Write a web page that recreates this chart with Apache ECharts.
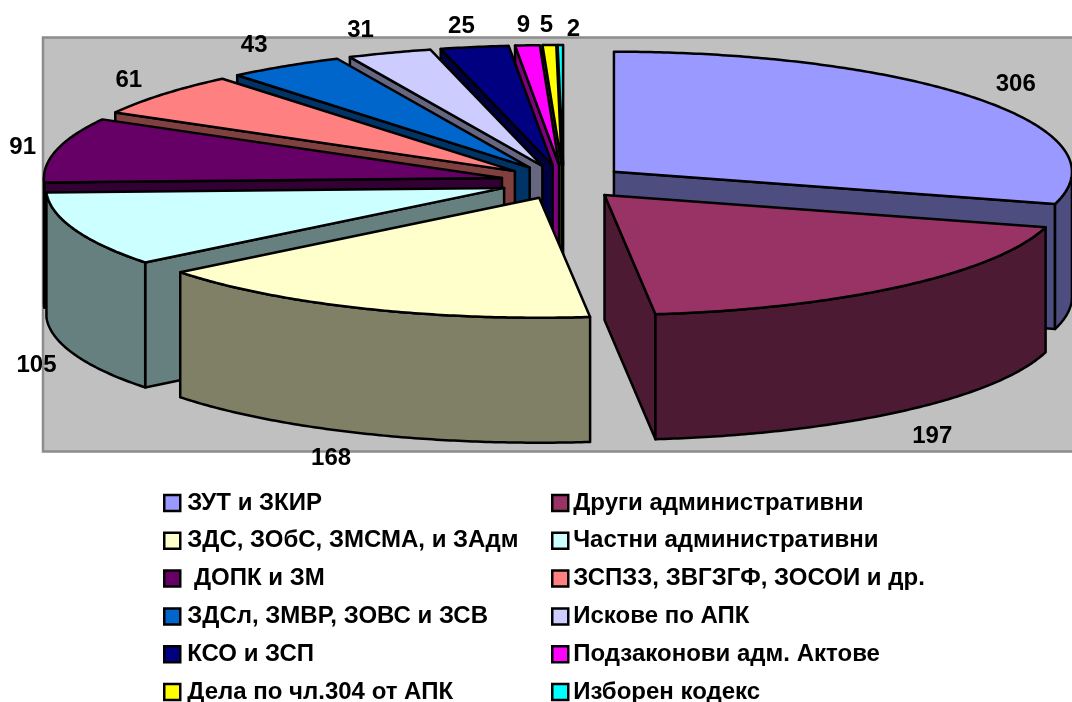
<!DOCTYPE html>
<html><head><meta charset="utf-8">
<style>html,body{margin:0;padding:0;background:#fff}#c{width:1072px;height:702px}</style>
<script src="https://cdn.jsdelivr.net/npm/echarts@6/dist/echarts.min.js"></script>
</head><body><div id="c"></div>
<script>
const categories = ['ЗУТ и ЗКИР','Други административни','ЗДС, ЗОбС, ЗМСМА, и ЗАдм','Частни административни',' ДОПК и ЗМ','ЗСПЗЗ, ЗВГЗГФ, ЗОСОИ и др.','ЗДСл, ЗМВР, ЗОВС и ЗСВ','Искове по АПК','КСО и ЗСП','Подзаконови адм. Актове','Дела по чл.304 от АПК','Изборен кодекс'];
const values = [306,197,168,105,91,61,43,31,25,9,5,2];
const topColors = ['#9999FF','#993366','#FFFFCC','#CCFFFF','#660066','#FF8080','#0066CC','#CCCCFF','#000080','#FF00FF','#FFFF00','#00FFFF'];
const sideColors = ['#4D4D80','#4D1A33','#808066','#668080','#330033','#804040','#003366','#666680','#000040','#800080','#808000','#008080'];
const labelShift = [[37,-15],[31,150],[-32,150],[-38,136],[-34,-3],[-34,-14],[-31,-21],[-29,-22],[-13,-21],[-4,-20],[-3,-20],[13,-16]];

const C = {x:563.5,y:182,rx:458,ry:120,ex:63.3,ey:17,depth:125};
const total = values.reduce((a,b)=>a+b,0);
const rad = v => v/total*2*Math.PI;
const starts = []; values.reduce((s,v,i)=>(starts[i]=s,s+v),0);

function slice(i){
  const a0=rad(starts[i]), a1=rad(starts[i]+values[i]), m=(a0+a1)/2;
  const ax=C.x+C.ex*Math.sin(m), ay=C.y-C.ey*Math.cos(m);
  const pt=a=>[ax+C.rx*Math.sin(a), ay-C.ry*Math.cos(a)];
  return {a0,a1,m,ax,ay,pt};
}
function arc(s,a,b){const n=Math.max(2,Math.ceil((b-a)/0.01));const r=[];for(let k=0;k<=n;k++)r.push(s.pt(a+(b-a)*k/n));return r;}
const drop=p=>[p[0],p[1]+C.depth];
const LINE={stroke:'#000',lineWidth:2.5,lineJoin:'round'};
function poly(points,fill){return {type:'polygon',shape:{points},style:Object.assign({fill},LINE),silent:true};}
function render(i){
  const s=slice(i), kids=[];
  const apex=[s.ax,s.ay], mid=s.pt(s.m);
  [s.a0,s.a1].forEach(a=>{
    const p=s.pt(a), dx=p[0]-s.ax, dy=p[1]-s.ay;
    const crossMid=dx*(mid[1]-s.ay)-dy*(mid[0]-s.ax), crossDown=dx;
    if(crossMid*crossDown<0) kids.push(poly([apex,p,drop(p),drop(apex)],sideColors[i]));
  });
  const fa=Math.max(s.a0,Math.PI/2), fb=Math.min(s.a1,Math.PI*1.5);
  if(fb>fa){const r=arc(s,fa,fb);kids.push(poly(r.concat(r.map(drop).reverse()),sideColors[i]));}
  kids.push(poly([apex].concat(arc(s,s.a0,s.a1)),topColors[i]));
  return {type:'group',children:kids};
}
function renderLabel(i){
  const s=slice(i), p=s.pt(s.m);
  return {type:'text',silent:true,style:{text:String(values[i]),x:p[0]+labelShift[i][0],y:p[1]+labelShift[i][1],
    align:'center',verticalAlign:'middle',fill:'#000',font:'bold 24px "Liberation Sans", Arial, sans-serif'}};
}
const order=values.map((v,i)=>i).sort((p,q)=>Math.cos(slice(q).m)-Math.cos(slice(p).m));
const series=categories.map((name,i)=>({
  type:'custom',name,coordinateSystem:'none',silent:true,animation:false,clip:false,
  z:10+order.indexOf(i),itemStyle:{color:topColors[i]},
  data:[values[i]],renderItem:()=>render(i)
}));
series.push({type:'custom',name:'labels',coordinateSystem:'none',silent:true,animation:false,z:40,
  data:values,renderItem:(p)=>renderLabel(p.dataIndex)});
const legendBase={orient:'vertical',top:491,height:400,padding:0,itemWidth:16,itemHeight:16,itemGap:13.8,selectedMode:false,icon:'rect',
  itemStyle:{borderColor:'#000',borderWidth:2.5},
  textStyle:{color:'#000',fontFamily:'"Liberation Sans", Arial, sans-serif',fontWeight:'bold',fontSize:24,lineHeight:24,padding:[0,0,0,2]}};
const chart=echarts.init(document.getElementById('c'),null,{renderer:'canvas'});
chart.setOption({
  animation:false,backgroundColor:'#fff',
  legend:[
    Object.assign({},legendBase,{left:163,data:categories.filter((c,i)=>i%2===0)}),
    Object.assign({},legendBase,{left:551,textStyle:Object.assign({},legendBase.textStyle,{padding:0}),data:categories.filter((c,i)=>i%2===1)})
  ],
  graphic:[{type:'rect',z:0,silent:true,shape:{x:43,y:37.5,width:1060,height:414},style:{fill:'#C0C0C0',stroke:'#8C8C8C',lineWidth:2.5}}],
  series
});
</script></body></html>
